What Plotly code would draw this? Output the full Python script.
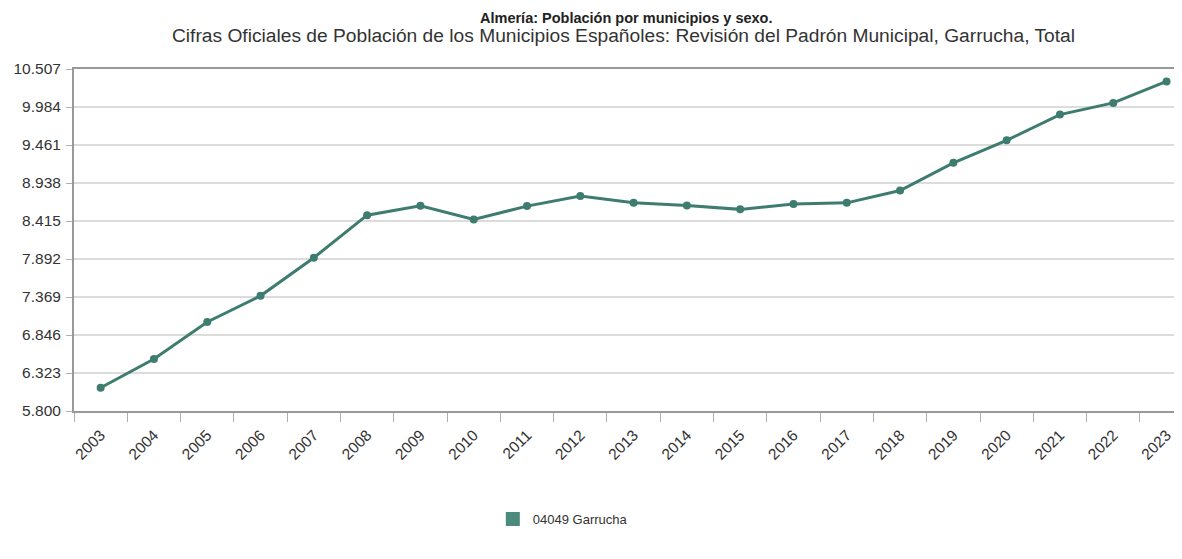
import plotly.graph_objects as go

years = [str(y) for y in range(2003, 2024)]
population = [6120, 6515, 7025, 7385, 7910, 8495, 8625, 8435, 8620, 8760, 8665,
              8630, 8575, 8650, 8665, 8835, 9215, 9525, 9880, 10040, 10336]
y_tickvals = [5800, 6323, 6846, 7369, 7892, 8415, 8938, 9461, 9984, 10507]
y_ticktext = ["5.800", "6.323", "6.846", "7.369", "7.892", "8.415", "8.938", "9.461", "9.984", "10.507"]
series_name = "04049 Garrucha"
title = "Almería: Población por municipios y sexo."
subtitle = "Cifras Oficiales de Población de los Municipios Españoles: Revisión del Padrón Municipal, Garrucha, Total"

color = "#3f7c70"
font_family = "Liberation Sans, Arial, sans-serif"

fig = go.Figure()
fig.add_trace(go.Scatter(
    x=years, y=population, mode="lines+markers",
    line=dict(color=color, width=3),
    marker=dict(color=color, size=8),
    showlegend=False, name=series_name,
))
fig.add_trace(go.Scatter(
    x=[None], y=[None], mode="markers",
    marker=dict(color="#4b8a7d", symbol="square", size=14),
    name=series_name, showlegend=True,
))

# page body has an 8px default margin, so the figure is offset by 8px
fig.update_layout(
    width=1174, height=551,
    margin=dict(l=66, r=0, t=61, b=148),
    paper_bgcolor="white", plot_bgcolor="white",
    font=dict(family=font_family, size=14, color="#333"),
    legend=dict(orientation="h", x=0.378, xanchor="left", y=-0.316, yanchor="middle",
                font=dict(size=13, color="#333")),
    annotations=[
        dict(text="<b>" + title + "</b>", x=0.499, y=1.149, xref="paper", yref="paper",
             showarrow=False, xanchor="center", yanchor="middle",
             font=dict(size=14.5, color="#222")),
        dict(text=subtitle, x=0.496, y=1.098, xref="paper", yref="paper",
             showarrow=False, xanchor="center", yanchor="middle",
             font=dict(size=19.2, color="#333")),
    ],
)
fig.update_xaxes(
    type="category", range=[-0.5, 20.29], tickson="boundaries", automargin=False,
    ticks="outside", ticklen=9, tickcolor="#b0b0b0", tickwidth=1,
    showline=True, linecolor="#999", linewidth=2, mirror=True,
    showgrid=False, tickangle=-45, ticklabelstandoff=7,
    tickfont=dict(size=15.5, color="#333"),
)
fig.update_yaxes(
    range=[5800, 10507], tickvals=y_tickvals, ticktext=y_ticktext, automargin=False,
    showgrid=True, gridcolor="#dcdcdc", gridwidth=1.5,
    ticks="outside", ticklen=6, tickcolor="#b0b0b0", tickwidth=1, ticklabelstandoff=2,
    showline=True, linecolor="#999", linewidth=2, zeroline=False,
    tickfont=dict(size=15.5, color="#333"),
)

fig.write_html("out.html")
